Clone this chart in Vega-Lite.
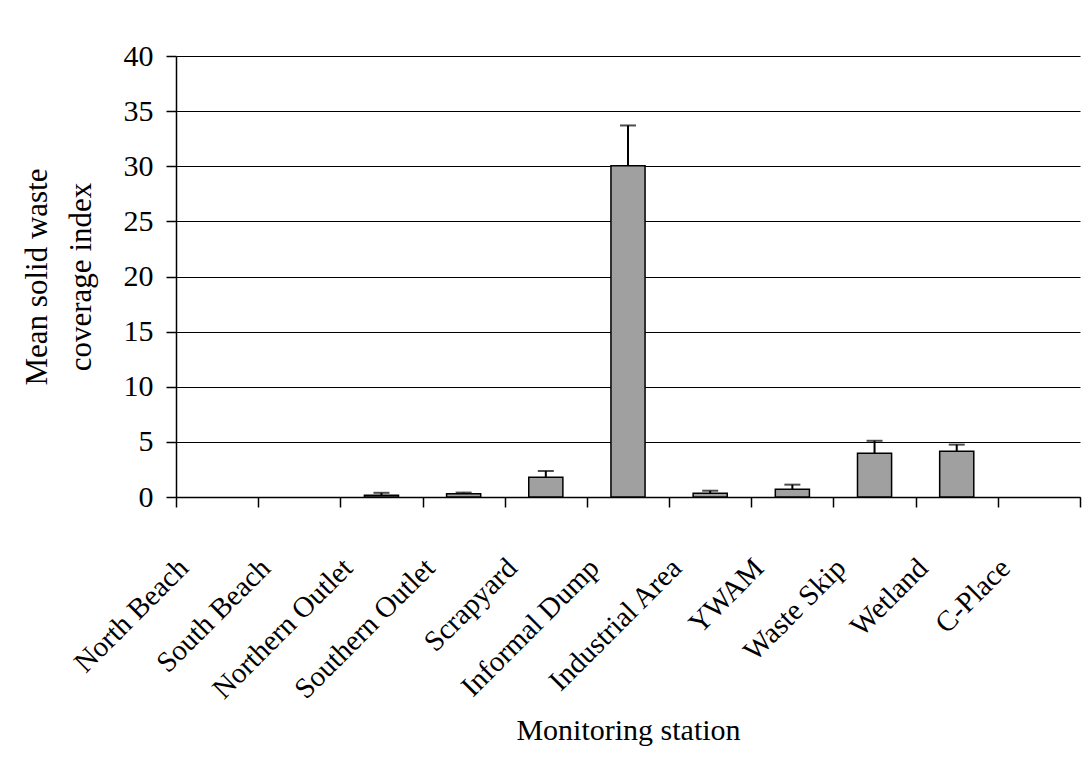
{
  "$schema": "https://vega.github.io/schema/vega-lite/v6.json",
  "autosize": {"type": "none"},
  "width": 904,
  "height": 441,
  "padding": {"left": 176, "top": 56, "right": 9, "bottom": 263},
  "background": "white",
  "config": {
    "font": "Liberation Serif",
    "view": {"stroke": null},
    "axis": {"domainColor": "black", "tickColor": "black", "labelColor": "black", "titleColor": "black", "labelFont": "Liberation Serif", "titleFont": "Liberation Serif", "titleFontWeight": "normal"}
  },
  "data": {
    "values": [
      {"station": "North Beach", "value": 0, "upper": null},
      {"station": "South Beach", "value": 0, "upper": null},
      {"station": "Northern Outlet", "value": 0.15, "upper": 0.38},
      {"station": "Southern Outlet", "value": 0.3, "upper": 0.4},
      {"station": "Scrapyard", "value": 1.8, "upper": 2.36},
      {"station": "Informal Dump", "value": 30.05, "upper": 33.7},
      {"station": "Industrial Area", "value": 0.33, "upper": 0.57},
      {"station": "YWAM", "value": 0.7, "upper": 1.12},
      {"station": "Waste Skip", "value": 3.97, "upper": 5.1},
      {"station": "Wetland", "value": 4.15, "upper": 4.75},
      {"station": "C-Place", "value": 0, "upper": null}
    ]
  },
  "encoding": {
    "x": {
      "field": "station",
      "type": "nominal",
      "sort": null,
      "scale": {
        "domain": ["North Beach", "South Beach", "Northern Outlet", "Southern Outlet", "Scrapyard", "Informal Dump", "Industrial Area", "YWAM", "Waste Skip", "Wetland", "C-Place"],
        "paddingInner": 0,
        "paddingOuter": 0
      },
      "axis": {
        "title": "Monitoring station",
        "titleFontSize": 30,
        "titleBaseline": "top",
        "titleY": 218,
        "tickBand": "extent",
        "tickSize": 10,
        "tickWidth": 1.5,
        "domainWidth": 1.5,
        "labelAngle": -45,
        "labelAlign": "right",
        "labelBaseline": "middle",
        "labelFontSize": 29,
        "labelLimit": 0,
        "labelPadding": 56,
        "labelOffset": -34
      }
    }
  },
  "layer": [
    {
      "transform": [{"filter": "datum.value > 0"}],
      "mark": {"type": "bar", "fill": "#a0a0a0", "stroke": "black", "strokeWidth": 1.5, "width": {"band": 0.415}},
      "encoding": {
        "y": {
          "field": "value",
          "type": "quantitative",
          "scale": {"domain": [0, 40], "nice": false},
          "axis": {
            "title": ["Mean solid waste", "coverage index"],
            "titleFontSize": 31,
            "titleLineHeight": 44,
            "titlePadding": 26,
            "values": [0, 5, 10, 15, 20, 25, 30, 35, 40],
            "grid": true,
            "gridColor": "black",
            "gridOpacity": 1,
            "gridWidth": 1.2,
            "tickSize": 10,
            "tickWidth": 1.5,
            "domainWidth": 1.5,
            "labelFontSize": 30,
            "labelPadding": 13
          }
        }
      }
    },
    {
      "transform": [{"filter": "datum.upper != null"}],
      "mark": {"type": "rule", "color": "black", "strokeWidth": 2},
      "encoding": {
        "y": {"field": "value", "type": "quantitative"},
        "y2": {"field": "upper"}
      }
    },
    {
      "transform": [{"filter": "datum.upper != null"}],
      "mark": {"type": "tick", "color": "black", "thickness": 2, "size": 16},
      "encoding": {
        "y": {"field": "upper", "type": "quantitative"}
      }
    }
  ]
}
